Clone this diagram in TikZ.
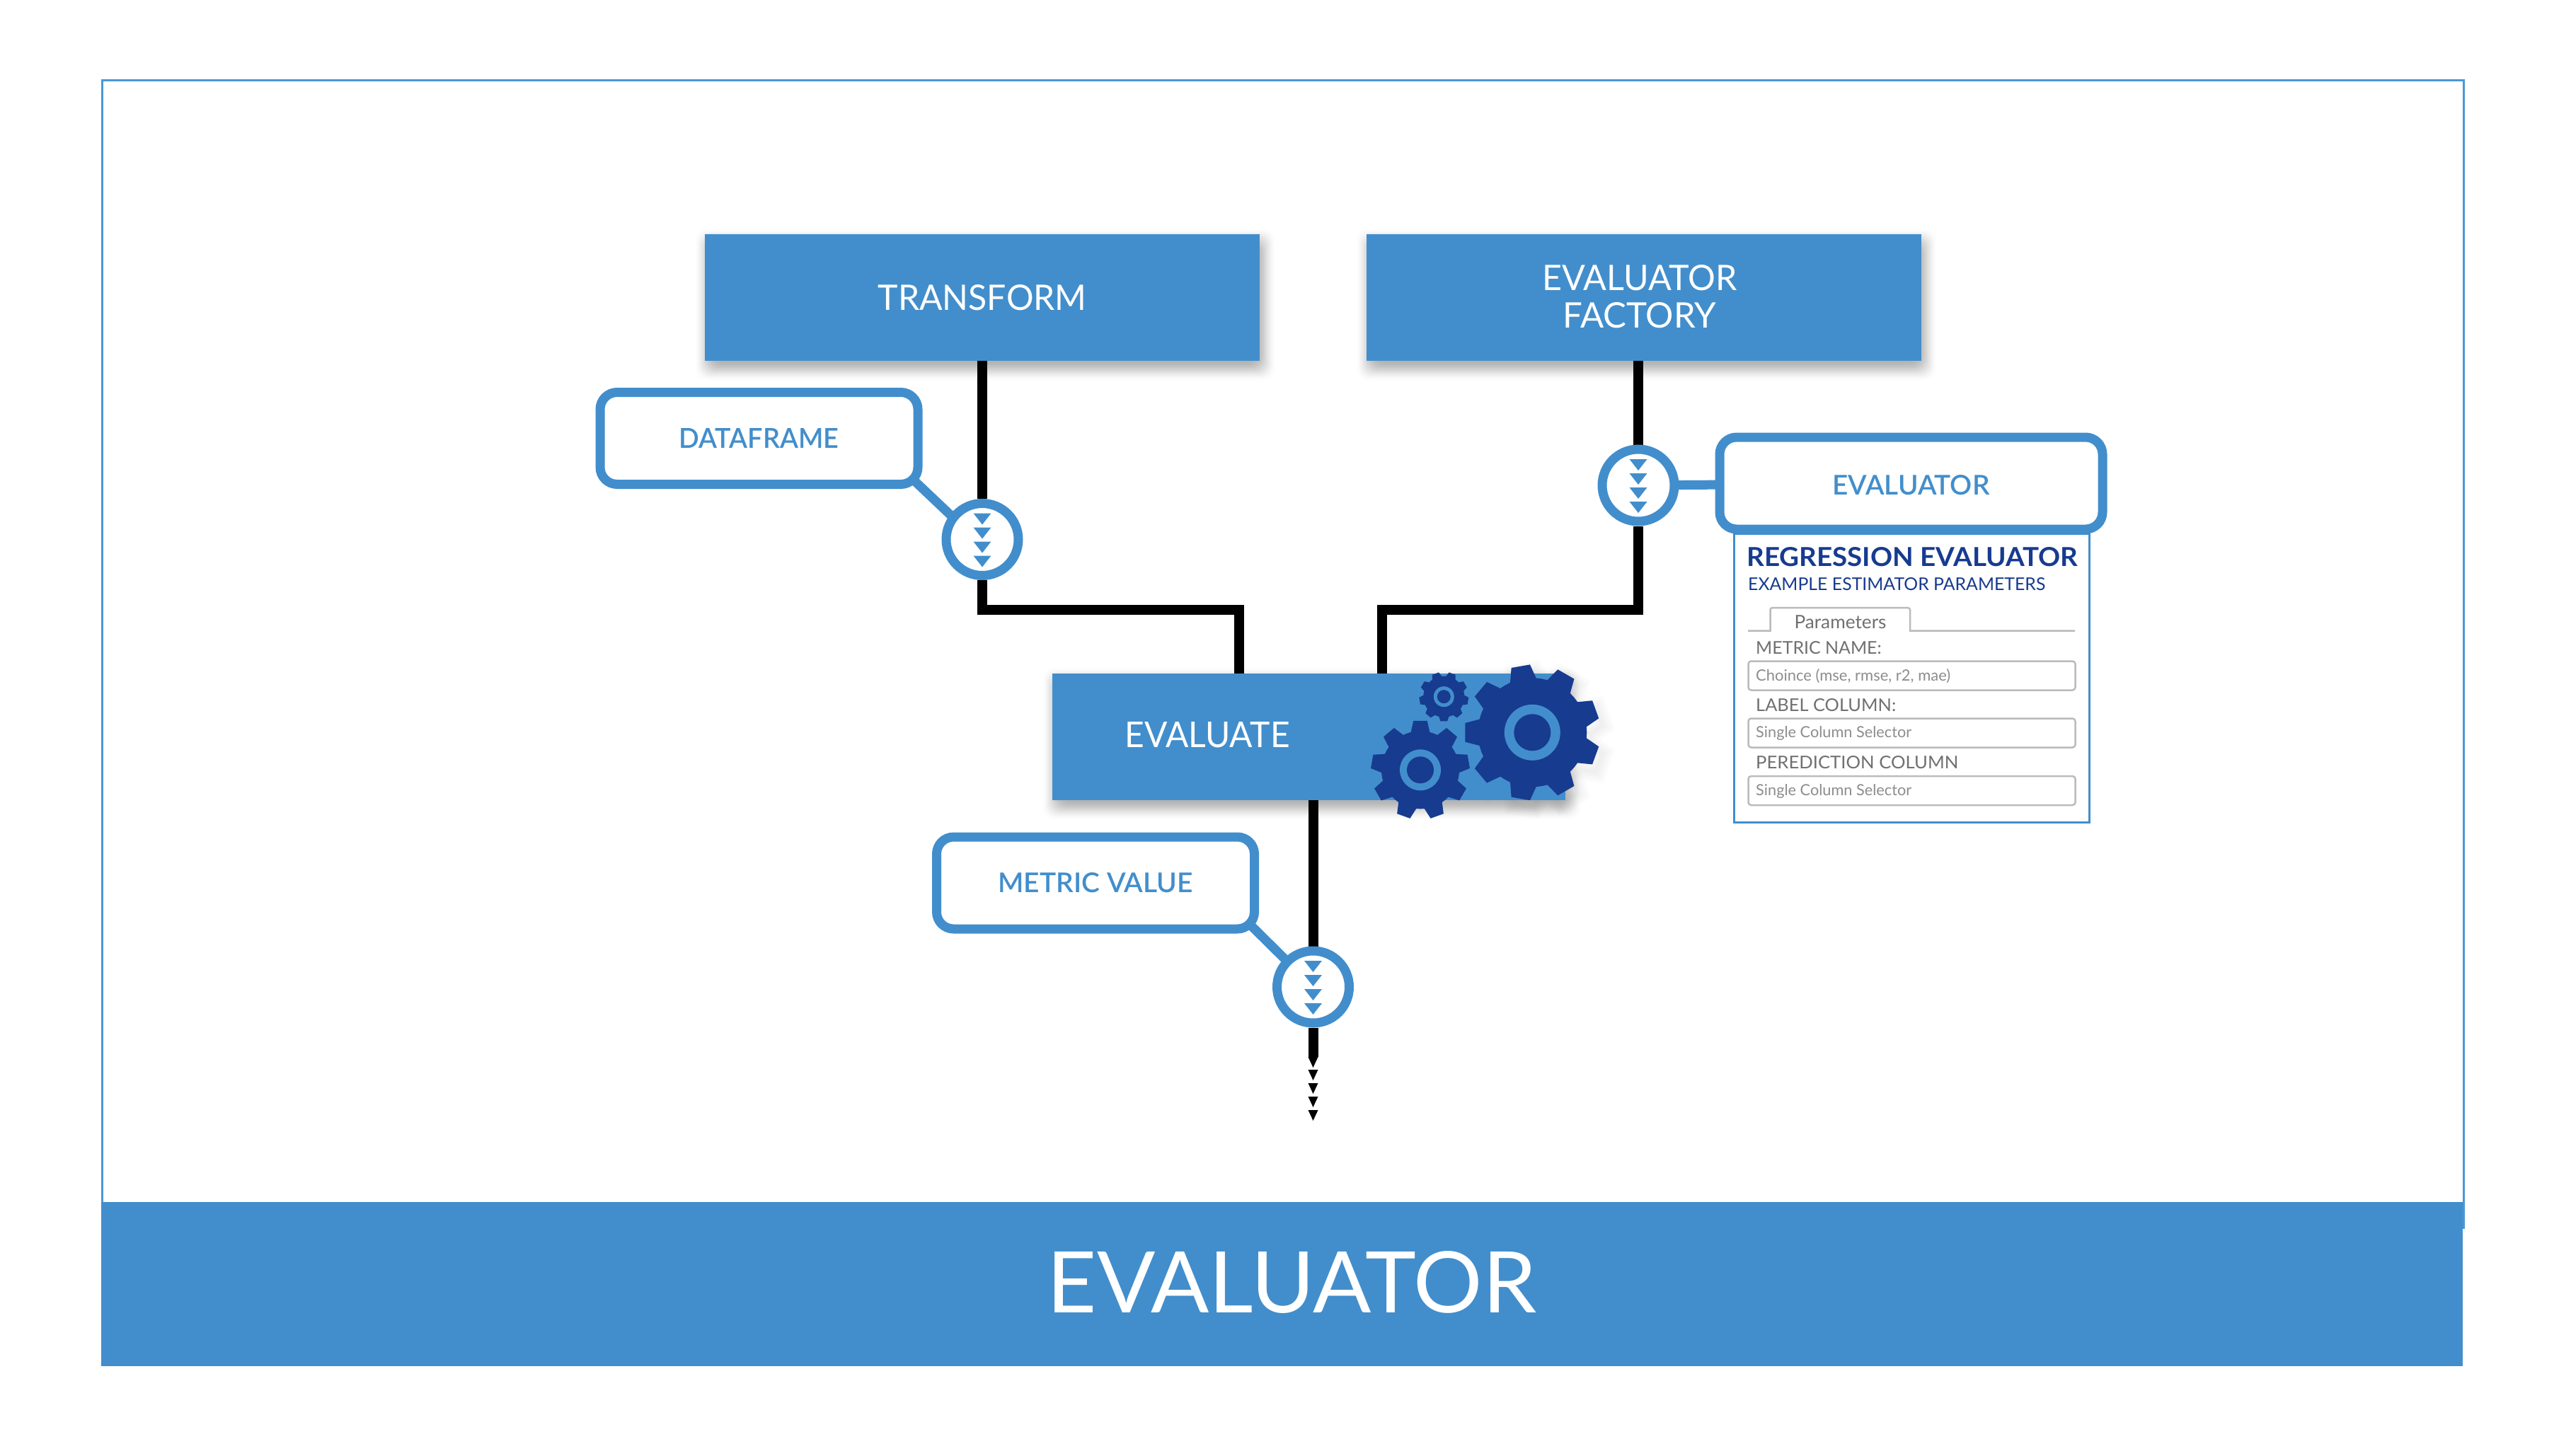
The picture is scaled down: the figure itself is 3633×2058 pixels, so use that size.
\documentclass[tikz,border=0pt]{standalone}
\usepackage{graphicx}
\usepackage{fontspec}
\usetikzlibrary{calc}
\setmainfont{Lato}
\newfontfamily\lightf{Lato Light}
\newfontfamily\medf{Lato Semibold}
\newfontfamily\boldf{Lato Bold}
\definecolor{accent}{HTML}{428ECC}
\definecolor{frameblue}{HTML}{4A98D6}
\definecolor{deep}{HTML}{173B8F}
\definecolor{fieldline}{HTML}{BBBBBB}
\definecolor{formtext}{HTML}{707070}
\pgfdeclarelayer{background}
\pgfsetlayers{background,main}
\newcommand{\fsz}[1]{\fontsize{#1}{#1}\selectfont}
\newcommand{\fit}[3]{\resizebox{#1pt}{#2pt}{#3}}
\newcommand{\fitw}[2]{\resizebox{#1pt}{!}{#2}}
\tikzset{
  bluebox/.style={fill=accent,text=white,inner sep=0,outer sep=0,minimum width=784,minimum height=179,align=center,font=\fsz{49}},
  whitetext/.style={text=white,inner sep=0,font=\fsz{49}},
  tagbox/.style={draw=accent,fill=white,line width=13,rounded corners=24,inner sep=0,text=accent,font=\medf\fsz{38}},
  flowdot/.style={circle,draw=accent,fill=white,line width=13,minimum size=102,inner sep=0},
  wire/.style={draw=black,line width=14,miter limit=10},
  tagwire/.style={draw=accent,line width=13},
  formfield/.style={draw=fieldline,fill=white,line width=2.5,rounded corners=4,minimum width=462,minimum height=41,inner sep=0,outer sep=0},
  formlabel/.style={anchor=west,inner sep=0,text=formtext,font=\fsz{25}},
  fieldtext/.style={anchor=west,inner sep=0,text=formtext!80!white,font=\fsz{20}},
}
\newcommand{\softshadow}[1]{%
  \foreach \s in {20,18,...,-10}{
    \pgfmathsetmacro\tt{(20-\s)/30}
    \pgfmathsetmacro\kk{30*\tt*\tt*(3-2*\tt)}
    \fill[black!\kk!white,rounded corners=16]
      ($(#1.north west)+(4-\s,10-\s)$) rectangle ($(#1.south east)+(4+\s,10+\s)$);}}
\newcommand{\chevrons}[1]{%
  \foreach \i in {0,1,2,3}
    \fill[accent] ($(#1.center)+(-12.5,-37+20*\i)$) -- ++(25,0) -- ++(-12.5,16) -- cycle;}
% cx cy Rout Rroot rot style
\newcommand{\gearshape}[6]{%
  \path[#6] ({#1+#4*cos(#5-14)},{#2-#4*sin(#5-14)})
    foreach \k in {0,...,8}{
      -- ({#1+#3*cos(#5+40*\k-8)},{#2-#3*sin(#5+40*\k-8)})
      -- ({#1+#3*cos(#5+40*\k+8)},{#2-#3*sin(#5+40*\k+8)})
      -- ({#1+#4*cos(#5+40*\k+14)},{#2-#4*sin(#5+40*\k+14)})
      -- ({#1+#4*cos(#5+40*\k+20)},{#2-#4*sin(#5+40*\k+20)})
      -- ({#1+#4*cos(#5+40*\k+26)},{#2-#4*sin(#5+40*\k+26)})
    } -- cycle;}
\newcommand{\gear}[7]{% cx cy Rout Rroot rot ringout ringin
  \gearshape{#1}{#2}{#3}{#4}{#5}{fill=deep}
  \fill[accent] (#1,#2) circle[radius=#6];
  \fill[deep] (#1,#2) circle[radius=#7];}
\begin{document}
\begin{tikzpicture}[x=1pt,y=-1pt]
\useasboundingbox (0,0) rectangle (3633,2058);
% panel and boxes
\node[draw=accent,fill=white,line width=2.5,minimum width=502,minimum height=408,inner sep=0,outer sep=0] (panel) at (2701.5,958.5) {};
\node[bluebox] (transform) at (1388,420.5) {\fit{295}{36}{TRANSFORM}};
\node[bluebox] (factory) at (2322.5,420.5) {};
\node[whitetext] (factorytop) at (2317,393) {\fit{275}{36}{EVALUATOR}};
\node[whitetext] (factorybot) at (2316.7,446) {\fit{217}{36}{FACTORY}};
\node[bluebox,minimum width=725] (evaluate) at (1849.5,1041) {};
\node[whitetext] (evaluatetext) at (1706.3,1038.7) {\fit{233}{36}{EVALUATE}};
\node[tagbox,minimum width=449,minimum height=130] (dataframe) at (1072.5,619.5) {\fit{226}{28}{DATAFRAME}};
\node[tagbox,minimum width=541,minimum height=130] (evaluator) at (2700.5,683) {\raisebox{-2pt}[28pt][0pt]{\fit{222}{28}{EVALUATOR}}};
\node[tagbox,minimum width=449,minimum height=130] (metric) at (1548,1248) {\fit{275}{28}{METRIC VALUE}};
\node[flowdot] (flowA) at (1388,762.5) {};
\node[flowdot] (flowB) at (2315,686) {};
\node[flowdot] (flowC) at (1855.5,1395) {};
\chevrons{flowA}\chevrons{flowB}\chevrons{flowC}
% junction points
\coordinate (inA) at (1751,952);
\coordinate (inB) at (1953,952);
\coordinate (wireend) at (1855.5,1494);
% end of the output wire
\fill[black] (wireend)++(-7,0) -- ++(14,0) -- ++(-7,15) -- cycle;
\foreach \i in {0,1,2,3}
  \fill[black] ($(wireend)+(-7,18+19*\i)$) -- ++(14,0) -- ++(-7,15) -- cycle;
% gears
\gear{2165.3}{1035.3}{96}{77}{20}{39.5}{26}
\gear{2007}{1088.3}{70}{55}{90}{29}{19}
\gear{2040.3}{984.7}{35}{29}{-90}{14.5}{9.5}
% form
\node[anchor=west,inner sep=0,text=deep,font=\boldf\fsz{38}] (regtitle) at (2468,787.5) {\fit{468}{27}{REGRESSION EVALUATOR}};
\node[anchor=west,inner sep=0,text=deep,font=\fsz{25}] (regsub) at (2470,826) {\fit{420}{18}{EXAMPLE ESTIMATOR PARAMETERS}};
\draw[fieldline,line width=2.5] (2470,891.5) -- (2501.5,891.5) [rounded corners=3] -- (2501.5,859) -- (2699,859) [sharp corners] -- (2699,891.5) -- (2932,891.5);
\node[inner sep=0,text=formtext,font=\fsz{24}] (tabname) at (2600.5,879) {\fitw{130}{Parameters}};
\node[formlabel] (lab1) at (2481,915.5) {\fit{177.5}{18}{METRIC NAME:}};
\node[formfield] (field1) at (2701.5,955) {};
\node[fieldtext] (val1) at (2481,955.5) {\fitw{275}{Choince (mse, rmse, r2, mae)}};
\node[formlabel] (lab2) at (2481,996.5) {\fit{198}{18}{LABEL COLUMN:}};
\node[formfield] (field2) at (2701.5,1036) {};
\node[fieldtext] (val2) at (2481,1036.5) {\fitw{220}{Single Column Selector}};
\node[formlabel] (lab3) at (2481,1078) {\fit{286}{18}{PEREDICTION COLUMN}};
\node[formfield] (field3) at (2701.5,1117.5) {};
\node[fieldtext] (val3) at (2481,1118) {\fitw{220}{Single Column Selector}};
% band
\node[fill=accent,inner sep=0,outer sep=0,minimum width=3337,minimum height=232] (band) at (1811.7,1815) {};
\node[text=white,inner sep=0,font=\fsz{120}] (title) at (1825.5,1812.3) {\fit{691}{87}{EVALUATOR}};
\begin{pgfonlayer}{background}
  \fill[white] (0,0) rectangle (3633,2058);
  \draw[frameblue,line width=3] (144.5,113.5) rectangle (3481.5,1735);
  \softshadow{transform}\softshadow{factory}\softshadow{evaluate}
  \foreach \s in {6,14,22,30}
    \gearshape{2170.3}{1045.3}{96}{77}{20}{draw=black,opacity=.015,line width=\s}
  \draw[wire] (transform.south) -- (flowA.north);
  \draw[wire] (flowA.south) |- (1751,862) -- (inA);
  \draw[wire] (factory.south -| flowB) -- (flowB.north);
  \draw[wire] (flowB.south) |- (1953,862) -- (inB);
  \draw[wire] (evaluate.south -| flowC) -- (flowC.north);
  \draw[wire] (flowC.south) -- (wireend);
  \draw[tagwire] ($(dataframe.south east)+(-12,-12)$) -- ($(flowA.center)+(0,8)$);
  \draw[tagwire] (flowB.center) -- (evaluator.center);
  \draw[tagwire] ($(metric.south east)+(-12,-12)$) -- (flowC.center);
\end{pgfonlayer}
\end{tikzpicture}
\end{document}
